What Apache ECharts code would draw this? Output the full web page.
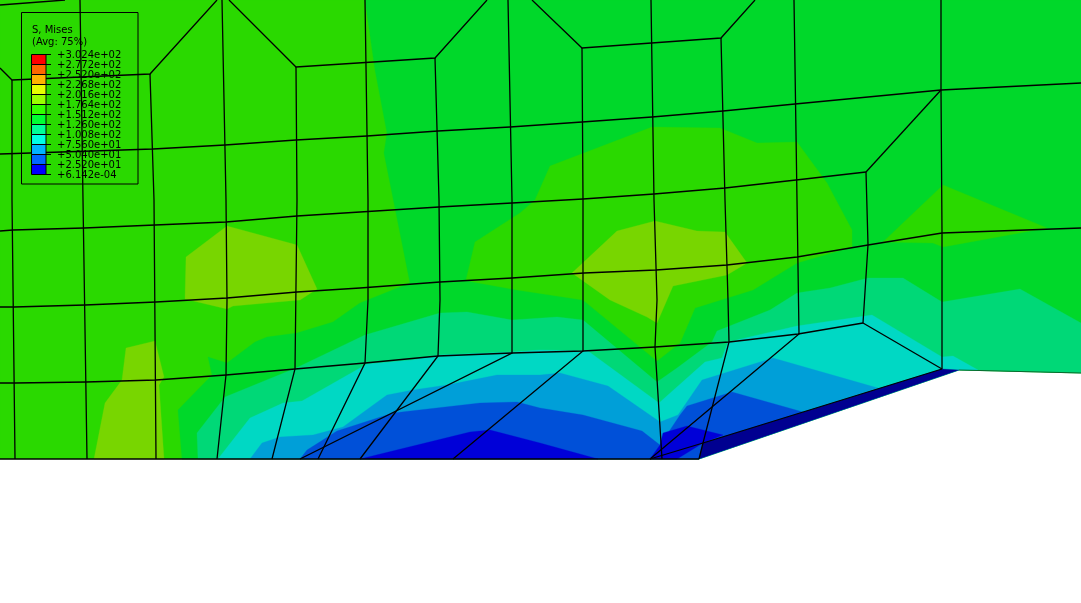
<!DOCTYPE html>
<html><head><meta charset="utf-8">
<style>html,body{margin:0;padding:0;background:#fff}#c{width:1081px;height:603px}</style>
<script src="https://cdn.jsdelivr.net/npm/echarts@6/dist/echarts.min.js"></script></head>
<body><div id="c"></div><script>
// contour bands: [x, y] in the model-view units of the picture
const bandBase=[[0,0],[1081,0],[1081,373],[959,370],[699,459],[0,459]];
const bandGreen=[[365,0],[375,70],[387,133],[384,153],[410,283],[360,303],[333,322],[297,333],[267,337],[255,342],[227,363],[208,357],[212,375],[178,410],[182,459],[699,459],[959,370],[1081,373],[1081,0]];
const islandCentre=[[535,200],[550,166],[652,127],[720,128],[757,143],[797,142],[827,183],[852,230],[852,247],[797,263],[753,290],[695,308],[680,343],[657,361],[583,300],[517,290],[473,282],[466,280],[475,242],[520,213]];
const islandRight=[[883,242],[943,185],[1047,228],[943,247],[933,243]];
const peakCentre=[[572,273],[617,231],[655,221],[697,231],[725,232],[747,263],[727,275],[673,286],[657,323],[647,317],[610,300]];
const peakLeft=[[186,257],[227,226],[297,245],[317,289],[300,300],[233,306],[227,309],[185,299]];
const peakLower=[[94,459],[105,403],[122,380],[126,348],[155,341],[164,377],[159,385],[164,459]];
const bandTeal=[[198,459],[197,433],[225,397],[296,368],[365,335],[440,313],[467,312],[512,320],[557,317],[583,320],[657,382],[677,368],[712,342],[717,331],[770,310],[797,293],[830,288],[868,278],[903,278],[942,302],[1020,289],[1081,323],[1081,373],[959,370],[699,459]];
const bandCyan=[[218,459],[250,418],[283,403],[302,401],[367,364],[413,360],[438,355],[512,352],[540,350],[588,351],[659,403],[705,362],[722,358],[728,342],[797,326],[872,315],[942,357],[953,356],[978,370],[959,370],[699,459]];
const bandSky=[[250,459],[262,443],[280,437],[313,435],[343,427],[387,395],[413,390],[447,385],[497,375],[540,375],[560,373],[608,386],[660,422],[678,415],[702,380],[773,358],[878,388],[703,443],[699,459]];
const bandBlue=[[300,459],[307,450],[337,431],[393,413],[480,403],[517,402],[540,408],[583,415],[642,431],[660,445],[680,415],[687,406],[732,392],[803,412],[703,443],[699,459]];
const bandDeep=[[360,459],[470,432],[490,430],[540,443],[598,459]];
const bandDeepRight=[[650,459],[660,445],[663,433],[687,426],[723,435],[703,443],[677,459]];
const bandNavy=[[699,459],[703,443],[942,369],[959,370]];

const colA='#2ad900',colB='#00d82a',colC='#00d877',colD='#00d8c4',colE='#009fd8',colF='#0050d8',colG='#0000d8',colN='#000090',colY='#78d600';
const bands=[
 [bandBase,colA],[bandGreen,colB],[islandCentre,colA],[islandRight,colA],[peakCentre,colY],[peakLeft,colY],[peakLower,colY],
 [bandTeal,colC],[bandCyan,colD],[bandSky,colE],[bandBlue,colF],[bandDeep,colG],[bandDeepRight,colG],[bandNavy,colN]
];

// element edges
const edges=[
 [[0,5],[65,0]],
 [[0,68],[12,80],[150,74],[217,0]],
 [[229,0],[296,67],[435,58],[487,0]],
 [[532,0],[582,48],[721,38],[755,0]],
 [[866,172],[941,90]],
 [[863,323],[942,369]],
 [[12,80],[12,200],[15,459]],
 [[80,0],[83,200],[87,459]],
 [[150,74],[154,200],[156,459]],
 [[222,0],[226,200],[227,300],[226,375],[217,459]],
 [[296,67],[297,200],[295,369],[272,459]],
 [[365,0],[368,200],[368,300],[365,363],[318,459]],
 [[435,58],[439,200],[440,300],[438,356],[360,459]],
 [[508,0],[512,200],[512,353],[300,459]],
 [[582,48],[583,200],[583,351],[453,459]],
 [[651,0],[654,200],[657,300],[655,347],[662,459]],
 [[721,38],[725,200],[728,300],[729,342],[703,443],[699,459]],
 [[794,0],[799,334],[730,392],[712,407],[650,459]],
 [[866,172],[868,245],[863,323]],
 [[941,0],[941,90],[942,233],[942,369]],
 [[0,154],[153,149],[225,145],[296,140],[367,136],[438,131],[510,127],[582,122],[652,117],[723,111],[795,104],[941,90],[1081,83]],
 [[0,231],[13,230],[84,228],[155,225],[226,222],[297,216],[360,212],[439,207],[512,203],[583,199],[654,194],[725,188],[796,180],[866,172]],
 [[0,307],[14,307],[85,305],[156,302],[227,298],[297,292],[360,288],[440,282],[512,278],[584,273],[656,270],[727,265],[797,257],[868,245],[942,233],[1081,228]],
 [[0,383],[15,383],[86,382],[156,380],[226,375],[295,369],[365,363],[438,356],[512,353],[583,351],[655,347],[729,342],[798,334],[863,323]],
 [[0,459],[699,459]],
 [[650,459],[703,443],[942,369]]
];
const edgeOuter=[[959,370],[1081,373]];

// legend
const legendTitle=['S, Mises','(Avg: 75%)'];
const legendValues=['+3.024e+02','+2.772e+02','+2.520e+02','+2.268e+02','+2.016e+02','+1.764e+02','+1.512e+02','+1.260e+02','+1.008e+02','+7.560e+01','+5.040e+01','+2.520e+01','+6.142e-04'];
const legendColors=['#ff0000','#ff6600','#ffb300','#e6ff00','#99ff00','#33ff00','#00ff33','#00ff99','#00ffe6','#00b3ff','#0066ff','#0000ff'];

const font='10px "DejaVu Sans"';
const pts=(api,a)=>a.map(p=>api.coord(p));
function rectPts(api,x0,y0,x1,y1){return pts(api,[[x0,y0],[x1,y0],[x1,y1],[x0,y1]]);}

const option={
 animation:false,
 grid:{left:0,right:0,top:0,bottom:0},
 xAxis:{type:'value',min:0,max:1081,show:false},
 yAxis:{type:'value',min:0,max:603,inverse:true,show:false},
 series:[
  {type:'custom',name:'contours',coordinateSystem:'cartesian2d',silent:true,clip:false,z:1,
   data:bands.map((b,i)=>[i]),encode:{x:0,y:0},
   renderItem:(p,api)=>{const b=bands[api.value(0)];
     return {type:'polygon',shape:{points:pts(api,b[0])},style:{fill:b[1],stroke:b[1],lineWidth:0.3}};}},
  {type:'custom',name:'mesh',coordinateSystem:'cartesian2d',silent:true,clip:false,z:2,
   data:edges.map((b,i)=>[i]),encode:{x:0,y:0},
   renderItem:(p,api)=>({type:'polyline',shape:{points:pts(api,edges[api.value(0)])},style:{fill:null,stroke:'#000',lineWidth:1.3}})},
  {type:'custom',name:'outer',coordinateSystem:'cartesian2d',silent:true,clip:false,z:2,
   data:[[0]],encode:{x:0,y:0},
   renderItem:(p,api)=>({type:'polyline',shape:{points:pts(api,edgeOuter)},style:{fill:null,stroke:'#0a6a30',lineWidth:1}})},
  {type:'custom',name:'legend',coordinateSystem:'cartesian2d',silent:true,clip:false,z:3,
   data:[[0]],encode:{x:0,y:0},
   renderItem:(p,api)=>{
     const ch=[];
     const box=rectPts(api,21.5,12.5,138,184);
     ch.push({type:'polygon',shape:{points:box},style:{fill:null,stroke:'#000',lineWidth:1}});
     legendTitle.forEach((t,i)=>{const c=api.coord([32,30.5+i*12]);
       ch.push({type:'text',style:{text:t,x:c[0],y:c[1],font:font,fill:'#000',align:'left',verticalAlign:'middle'}});});
     legendColors.forEach((col,i)=>{
       ch.push({type:'polygon',shape:{points:rectPts(api,31.5,54.5+i*10,46,64.5+i*10)},style:{fill:col,stroke:'#000',lineWidth:1}});});
     legendValues.forEach((t,i)=>{const y=54.5+i*10;
       ch.push({type:'polyline',shape:{points:pts(api,[[46,y],[51,y]])},style:{fill:null,stroke:'#000',lineWidth:1}});
       const c=api.coord([57,y+0.5]);
       ch.push({type:'text',style:{text:t,x:c[0],y:c[1],font:font,fill:'#000',align:'left',verticalAlign:'middle'}});});
     return {type:'group',children:ch};
   }}
 ]
};
echarts.init(document.getElementById('c'),null,{renderer:'canvas'}).setOption(option);
</script></body></html>
